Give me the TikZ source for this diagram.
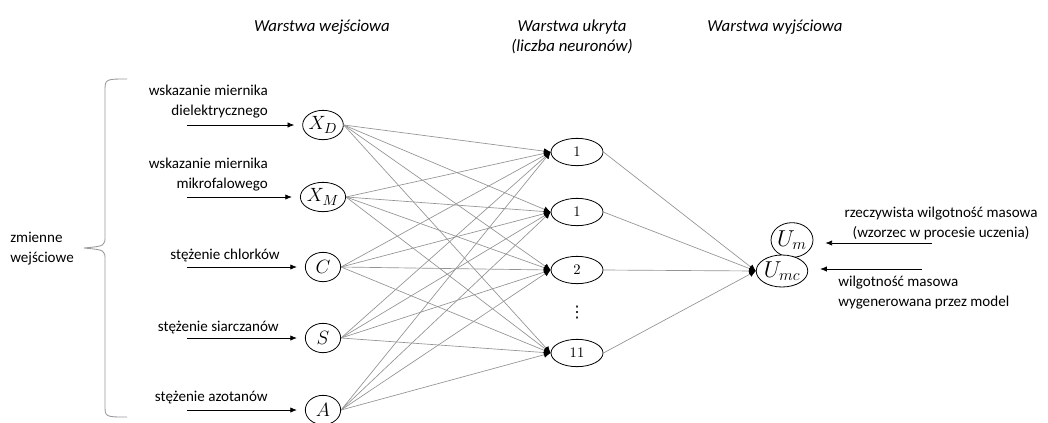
\documentclass[tikz,border=0pt]{standalone}
\usepackage{fontspec}
\setmainfont{Carlito}
\newfontfamily\symfont{DejaVu Sans}
\usetikzlibrary{arrows.meta,shapes.geometric}
\begin{document}
\begin{tikzpicture}[x=0.75pt,y=-0.75pt,
  lbl/.style={font=\fontsize{11.3}{15}\selectfont, inner sep=0pt},
  ttl/.style={font=\fontsize{12.6}{15}\selectfont\itshape, align=center, inner sep=0pt},
  inp/.style={draw, ellipse, line width=0.6pt, inner sep=0pt, minimum width=26.5pt, minimum height=22pt,
              font=\fontsize{15}{15}\selectfont},
  hid/.style={draw, ellipse, line width=0.6pt, inner sep=0pt, minimum width=39pt, minimum height=20.5pt,
              font=\fontsize{11}{11}\selectfont},
  outn/.style={draw, ellipse, line width=0.6pt, fill=white, inner sep=0pt, minimum width=31pt,
               font=\fontsize{17}{17}\selectfont},
  inarr/.style={-{Latex[length=5pt,width=4pt]}, line width=0.55pt},
  wire/.style={draw=gray!85, line width=0.5pt, -{Latex[length=5pt,width=4.5pt,color=black]}},
  brace/.style={draw=gray!80, line width=0.65pt}
]
\useasboundingbox (0,0) rectangle (1048,422);

% layer titles
\node[ttl] (t1) at (322,27) {Warstwa wejściowa};
\node[ttl] (t2) at (572,37) {Warstwa ukryta\\(liczba neuronów)};
\node[ttl] (t3) at (775,27) {Warstwa wyjściowa};

% input brace and its label
\draw[brace] (127,79) .. controls (105,79) .. (105,92) -- (105,236)
  .. controls (105,246) .. (84,248) .. controls (105,250) .. (105,260)
  -- (105,405) .. controls (105,417) .. (127,417);
\node[lbl, anchor=west, align=left] (zw) at (10,249) {zmienne\\wejściowe};

% input neurons
\node[inp] (XD) at (323,125) {$X_D$};
\node[inp] (XM) at (323,197) {$X_M$};
\node[inp] (C)  at (323,267) {$C$};
\node[inp] (S)  at (323,338) {$S$};
\node[inp] (A)  at (323,410) {$A$};

% input descriptions
\node[lbl, anchor=east, align=right] (lD) at (268,102) {wskazanie miernika\\dielektrycznego};
\node[lbl, anchor=east, align=right] (lM) at (268,175) {wskazanie miernika\\mikrofalowego};
\node[lbl, anchor=east] (lC) at (280,255) {stężenie chlorków};
\node[lbl, anchor=east] (lS) at (279,327) {stężenie siarczanów};
\node[lbl, anchor=east] (lA) at (268,397) {stężenie azotanów};

% input arrows
\foreach \n/\y in {XD/125, XM/197, C/267, S/338, A/410} {
  \coordinate (s\n) at (187,\y);
  \draw[inarr, shorten >=6pt] (s\n) -- (\n);
}

% hidden neurons
\node[hid] (H1) at (577,152) {$1$};
\node[hid] (H2) at (577,212) {$1$};
\node[hid] (H3) at (577,270) {$2$};
\node[font=\symfont\fontsize{12}{12}\selectfont, inner sep=0pt] (dots) at (577,313) {⋮};
\node[hid] (H4) at (577,353) {$11$};

% input -> hidden connections
\foreach \i in {XD,XM,C,S,A} {
  \foreach \h in {H1,H2,H3,H4} {
    \draw[wire] (\i.east) -- (\h.west);
  }
}

% output neurons
\node[outn, minimum height=26pt] (Um) at (792,240) {$U_m$};
\node[outn, minimum height=24pt] (Umc) at (782,271) {$U_{mc}$};

% hidden -> output connections
\foreach \h in {H1,H2,H3,H4} {
  \draw[wire] (\h.east) -- (Umc.west);
}

% output descriptions and arrows
\node[lbl, align=center] (lUm) at (941,223) {rzeczywista wilgotność masowa\\(wzorzec w procesie uczenia)};
\node[lbl, anchor=west, align=left] (lUmc) at (838,293) {wilgotność masowa\\wygenerowana przez model};
\coordinate (rUm) at (932,243);
\coordinate (rUmc) at (922,269);
\draw[inarr, shorten >=9pt] (rUm) -- (rUm -| Um.east);
\draw[inarr, shorten >=9pt] (rUmc) -- (rUmc -| Umc.east);
\end{tikzpicture}
\end{document}
